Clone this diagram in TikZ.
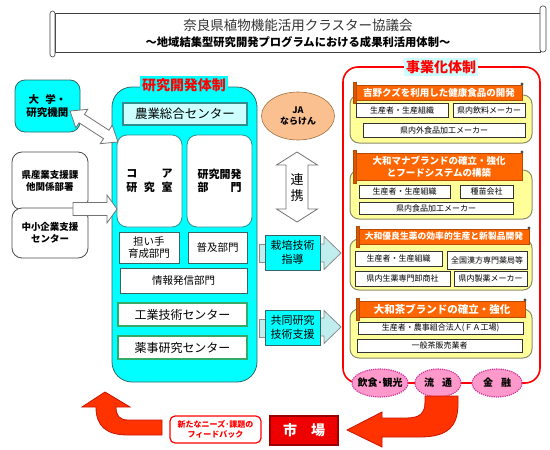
\documentclass[tikz,border=0pt]{standalone}
\usepackage{fontspec}
\newfontfamily\jp{Noto Sans CJK JP}
\usetikzlibrary{calc,fit,shapes.geometric}
\definecolor{cyn}{HTML}{00FFFF}
\definecolor{lcyn}{HTML}{CCFFFF}
\definecolor{teal2}{HTML}{336666}
\definecolor{teal3}{HTML}{2F8F8F}
\definecolor{grn}{HTML}{33AA66}
\definecolor{org}{HTML}{FF6600}
\definecolor{orgd}{HTML}{B84A00}
\definecolor{yel}{HTML}{FFFF99}
\definecolor{ylwd}{HTML}{8C8C6A}
\definecolor{jaor}{HTML}{FAC090}
\definecolor{jaord}{HTML}{A0703C}
\definecolor{pnk}{HTML}{FF99CC}
\definecolor{mag}{HTML}{CC3399}
\definecolor{rd}{HTML}{FF0000}
\definecolor{arr}{HTML}{FF3300}
\definecolor{arrd}{HTML}{CC1100}
\definecolor{acyn}{HTML}{C0EDED}
\definecolor{mkt}{HTML}{EE0000}
\definecolor{mktd}{HTML}{990000}
\tikzset{
  fs/.code={\pgfmathsetmacro\mylead{1.22*#1}\edef\tmp{\noexpand\tikzset{font=\noexpand\jp\noexpand\fontsize{#1}{\mylead}\noexpand\selectfont}}\tmp},
  fitbox/.style={inner sep=0pt, outer sep=0pt},
  lab/.style={inner sep=0pt, outer sep=0pt, align=center, anchor=center},
  item/.style={fitbox, draw=black!80, fill=white, line width=0.6pt},
  inbox/.style={fitbox, draw=teal2, fill=white, line width=1pt},
  corebox/.style={fitbox, draw=teal3, fill=white, line width=0.8pt, rounded corners=10pt},
  grbox/.style={fitbox, draw=grn, fill=white, line width=1.6pt},
  ylwbox/.style={fitbox, draw=ylwd, fill=yel, line width=1pt, rounded corners=9pt},
  banner/.style={fitbox, draw=orgd, fill=org, line width=0.6pt},
  roll/.style={draw=orgd, fill=org!85!black, line width=0.5pt},
  pinkel/.style={ellipse, fill=pnk, draw=mag, densely dotted, line width=1.2pt, inner sep=0pt},
  blockarr/.style={draw=black!55, fill=white, line width=0.8pt},
  lcarr/.style={draw=black!45, fill=acyn, line width=0.8pt},
  redarr/.style={draw=arrd, fill=arr, line width=0.8pt},
  leftbox/.style={fitbox, draw=black!70, fill=white, line width=0.8pt, rounded corners=10pt},
  cyanlab/.style={fitbox, draw=teal2, fill=cyn, line width=0.8pt},
  tab/.style={draw=black!45, fill=acyn, line width=0.6pt}
}
% block arrows: #1 style, #2 start, #3 end, #4 shaft half, #5 head half, #6 head length
\newcommand\dblarrow[6]{%
  \draw[#1] (#2) -- ($(#2)!#6!(#3)!#5!90:(#3)$) -- ($(#2)!#6!(#3)!#4!90:(#3)$)
   -- ($(#3)!#6!(#2)!#4!-90:(#2)$) -- ($(#3)!#6!(#2)!#5!-90:(#2)$) -- (#3)
   -- ($(#3)!#6!(#2)!#5!90:(#2)$) -- ($(#3)!#6!(#2)!#4!90:(#2)$)
   -- ($(#2)!#6!(#3)!#4!-90:(#3)$) -- ($(#2)!#6!(#3)!#5!-90:(#3)$) -- cycle;}
\newcommand\sglarrow[6]{%
  \draw[#1] ($(#2)!#4!90:(#3)$) -- ($(#3)!#6!(#2)!#4!-90:(#2)$) -- ($(#3)!#6!(#2)!#5!-90:(#2)$)
   -- (#3) -- ($(#3)!#6!(#2)!#5!90:(#2)$) -- ($(#3)!#6!(#2)!#4!90:(#2)$)
   -- ($(#2)!#4!-90:(#3)$) -- cycle;}
% label centred on a named box
\newcommand\boxlab[3][]{\node[lab,#1] (#2-t) at (#2.center) {#3};}
\begin{document}
\begin{tikzpicture}[x=1pt,y=-1pt]
\useasboundingbox (0,0) rectangle (550,450);
\fill[white] (0,0) rectangle (550,450);

% ---------- title scroll ----------
\node[fitbox, draw=black!75, fill=white, line width=0.6pt, fit={(55,13)(540,52)}] (scroll) {};
\draw[line width=0.6pt, draw=black!75, fill=white, rounded corners=2.5pt] (50,11) rectangle (55,57);
\draw[line width=0.6pt, draw=black!75, fill=white, rounded corners=2.5pt] (540,6) rectangle (546,52);
\node[lab, fs=13.5, text=black!80] (t1) at (298,25) {奈良県植物機能活用クラスター協議会};
\node[lab, fs=11.3] (t2) at (298,42) {\bfseries ～地域結集型研究開発プログラムにおける成果利活用体制～};

% ---------- frames ----------
\node[fitbox, draw=teal2, fill=cyn, rounded corners=20pt, line width=0.8pt, fit={(112,87)(257,382)}] (rdframe) {};
\node[fill=cyn, fs=14, text=rd, inner sep=2pt] (rdtitle) at (184,85) {\bfseries 研究開発体制};

\node[fitbox, draw=rd, fill=white, rounded corners=15pt, line width=1.6pt, fit={(343,67)(540,383)}] (bzframe) {};
\node[fill=lcyn, fs=14, text=rd, inner sep=2pt] (bztitle) at (441,67) {\bfseries 事業化体制};

% ---------- left column ----------
\node[cyanlab, rounded corners=10pt, fit={(15,80)(80,132)}] (univ) {};
\boxlab[fs=10.5]{univ}{\bfseries 大\hspace{0.6em}学・\\\bfseries 研究機関}
\node[leftbox, fit={(12,152)(88,210)}] (pref) {};
\boxlab[fs=9.5]{pref}{\bfseries 県産業支援課\\\bfseries 他関係部署}
\node[leftbox, fit={(12,208)(88,258)}] (sme) {};
\boxlab[fs=9.5]{sme}{\bfseries 中小企業支援\\\bfseries センター}

% ---------- research column ----------
\node[fitbox, draw=teal3, fill=lcyn, line width=1.4pt, fit={(123,103)(247,125)}] (nogyo) {};
\boxlab[fs=12.5]{nogyo}{農業総合センター}
\node[corebox, fit={(117,135)(182,227)}] (core) {};
\boxlab[fs=11]{core}{\bfseries コ\hspace{2.2em}ア\\\bfseries 研\hspace{0.6em}究\hspace{0.6em}室}
\node[corebox, fit={(187,135)(252,227)}] (kaihatsu) {};
\boxlab[fs=11]{kaihatsu}{\bfseries 研究開発\\\bfseries 部\hspace{2em}門}
\node[inbox, fit={(119,232)(179,263)}] (ninai) {};
\boxlab[fs=10.5]{ninai}{担い手\\育成部門}
\node[inbox, fit={(188,232)(247,263)}] (fukyu) {};
\boxlab[fs=10.5]{fukyu}{普及部門}
\node[inbox, fit={(120,268)(247,293)}] (joho) {};
\boxlab[fs=10.5]{joho}{情報発信部門}
\node[grbox, fit={(118,303)(247,326)}] (kogyo) {};
\boxlab[fs=12]{kogyo}{工業技術センター}
\node[grbox, fit={(118,336)(247,359)}] (yakuji) {};
\boxlab[fs=12]{yakuji}{薬事研究センター}

% arrows left
\coordinate (ua) at (70,111);
\coordinate (ub) at (118,142);
\dblarrow{blockarr}{ua}{ub}{5pt}{11pt}{14pt}
\coordinate (pa) at (73,209);
\coordinate (pb) at (117,209);
\sglarrow{blockarr}{pa}{pb}{6.5pt}{14pt}{10pt}

% ---------- middle ----------
\node[ellipse, fill=jaor, draw=jaord, line width=0.6pt, minimum width=73pt, minimum height=48pt, inner sep=0pt] (ja) at (298,116) {};
\boxlab[fs=9]{ja}{\bfseries JA\\\bfseries ならけん}
\coordinate (la) at (297,152);
\coordinate (lb) at (297,222);
\dblarrow{blockarr}{la}{lb}{11pt}{20.5pt}{13pt}
\node[lab, fs=13] (renkei) at (297,188) {連\\携};

\coordinate (sa) at (310,253);
\coordinate (sb) at (341,253);
\sglarrow{lcarr}{sa}{sb}{9pt}{16.5pt}{17pt}
\draw[tab] (259,244) rectangle (266,262);
\node[cyanlab, fit={(265,235)(320,270)}] (saibai) {};
\boxlab[fs=11]{saibai}{栽培技術\\指導}

\coordinate (ka) at (310,327);
\coordinate (kb) at (341,327);
\sglarrow{lcarr}{ka}{kb}{9pt}{16.5pt}{17pt}
\draw[tab] (259,319) rectangle (266,337);
\node[cyanlab, fit={(265,310)(320,345)}] (kyodo) {};
\boxlab[fs=11]{kyodo}{共同研究\\技術支援}

% ---------- right column sections ----------
% section 1
\node[ylwbox, fit={(350,95)(532,143)}] (y1) {};
\node[banner, fit={(356,85)(522,100)}] (b1) {};
\boxlab[fs=9.5, text=white]{b1}{\bfseries 吉野クズを利用した健康食品の開発}
\draw[roll] (353,82) rectangle (356,103);
\fill[black!70] (522,84) circle (1.6pt);
\node[item, fit={(356,103)(448,117)}] (i11) {};
\boxlab[fs=8]{i11}{生産者・生産組織}
\node[item, fit={(453,103)(525,117)}] (i12) {};
\boxlab[fs=8]{i12}{県内飲料メーカー}
\node[item, fit={(363,123)(525,137)}] (i13) {};
\boxlab[fs=8]{i13}{県内外食品加工メーカー}

% section 2
\node[ylwbox, fit={(350,170)(532,219)}] (y2) {};
\node[banner, fit={(356,153)(522,180)}] (b2) {};
\boxlab[fs=9.5, text=white]{b2}{\bfseries 大和マナブランドの確立・強化\\\bfseries とフードシステムの構築}
\draw[roll] (353,150) rectangle (356,183);
\fill[black!70] (522,152) circle (1.6pt);
\node[item, fit={(359,185)(450,198)}] (i21) {};
\boxlab[fs=8]{i21}{生産者・生産組織}
\node[item, fit={(460,185)(513,198)}] (i22) {};
\boxlab[fs=8]{i22}{種苗会社}
\node[item, fit={(359,202)(513,214)}] (i23) {};
\boxlab[fs=8]{i23}{県内食品加工メーカー}

% section 3
\node[ylwbox, fit={(350,239)(532,290)}] (y3) {};
\node[banner, fit={(359,229)(529,244)}] (b3) {};
\boxlab[fs=8.8, text=white]{b3}{\bfseries 大和優良生薬の効率的生産と新製品開発}
\draw[roll] (356,226) rectangle (359,247);
\fill[black!70] (529,228) circle (1.6pt);
\node[item, fit={(355,251)(442,266)}] (i31) {};
\boxlab[fs=8]{i31}{生産者・生産組織}
\node[item, fit={(447,251)(527,269)}] (i32) {};
\boxlab[fs=8]{i32}{全国漢方専門薬局等}
\node[item, fit={(355,271)(450,286)}] (i33) {};
\boxlab[fs=8]{i33}{県内生薬専門卸商社}
\node[item, fit={(454,271)(527,286)}] (i34) {};
\boxlab[fs=8]{i34}{県内製薬メーカー}

% section 4
\node[ylwbox, fit={(350,309)(532,358)}] (y4) {};
\node[banner, fit={(359,301)(525,317)}] (b4) {};
\boxlab[fs=10.5, text=white]{b4}{\bfseries 大和茶ブランドの確立・強化}
\draw[roll] (356,298) rectangle (359,320);
\fill[black!70] (525,300) circle (1.6pt);
\node[item, fit={(358,322)(523,334)}] (i41) {};
\boxlab[fs=8]{i41}{生産者・農事組合法人(ＦＡ工場)}
\node[item, fit={(357,339)(522,352)}] (i42) {};
\boxlab[fs=8]{i42}{一般茶販売業者}

% ---------- bottom ----------
\node[pinkel, minimum width=56pt, minimum height=28pt] (e1) at (380,383) {};
\boxlab[fs=10]{e1}{\bfseries 飲食･観光}
\node[pinkel, minimum width=46pt, minimum height=28pt] (e2) at (438,383) {};
\boxlab[fs=10]{e2}{\bfseries 流\hspace{0.8em}通}
\node[pinkel, minimum width=50pt, minimum height=28pt] (e3) at (497,383) {};
\boxlab[fs=10]{e3}{\bfseries 金\hspace{0.8em}融}

% red arrow from 流通 to 市場
\draw[redarr] (425,396) -- (425,402) .. controls (425,414) and (419,418) .. (406,418) -- (382,418) -- (382,412)
  -- (347,430) -- (382,447) -- (382,437) -- (420,437) .. controls (448,437) and (458,426) .. (458,404) -- (458,396) -- cycle;

\node[fitbox, fill=mkt, draw=mktd, line width=1.5pt, fit={(270,416)(338,445)}] (market) {};
\boxlab[fs=14, text=white]{market}{\bfseries 市\hspace{1em}場}
\node[fitbox, fill=white, draw=rd, line width=1.2pt, rounded corners=5pt, fit={(170,416)(261,443)}] (feedback) {};
\boxlab[fs=8, text=rd]{feedback}{\bfseries 新たなニーズ･課題の\\\bfseries フィードバック}

% red arrow feedback back up
\draw[redarr] (162,420) -- (128,420) .. controls (119,420) and (116,415) .. (116,407) -- (130,407) -- (105,392)
  -- (82,407) -- (96,407) .. controls (96,426) and (106,435) .. (128,435) -- (162,435) -- cycle;

\end{tikzpicture}
\end{document}
